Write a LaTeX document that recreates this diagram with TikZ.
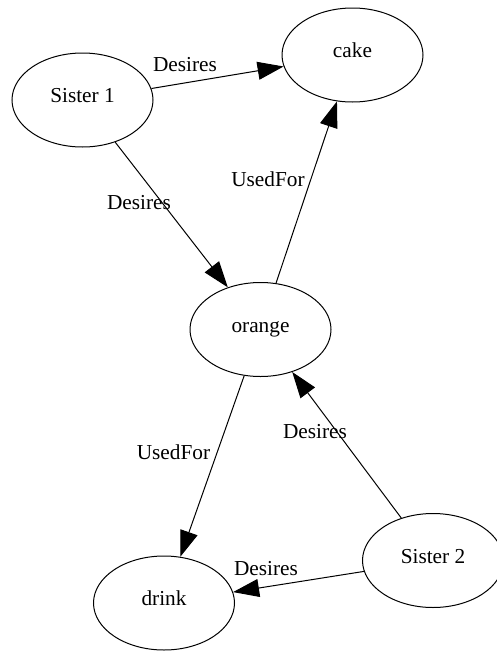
\documentclass[tikz,border=0pt]{standalone}
\usepackage{fontspec}
\setmainfont{Liberation Serif}
\usetikzlibrary{shapes.geometric,arrows.meta}
\tikzset{
 concept/.style={draw,ellipse,line width=1pt,inner sep=0pt,minimum width=141pt,minimum height=94pt,
   text height=0.8em,text depth=0.25em},
 rel/.style={line width=1pt,-{Triangle[length=26pt,width=18pt]}},
 lbl/.style={anchor=base,inner sep=0pt}
}

\begin{document}
\begin{tikzpicture}[x=1pt,y=-1pt,font=\fontsize{21.3}{25}\selectfont]
 \useasboundingbox (0,0) rectangle (497,651);
 % concepts
 \node[concept] (sister1) at (82.5,100) {Sister 1};
 \node[concept] (cake) at (352.5,55) {cake};
 \node[concept] (orange) at (260.5,329.5) {orange};
 \node[concept] (sister2) at (433,560.5) {Sister 2};
 \node[concept] (drink) at (164,603) {drink};
 % relations
 \draw[rel] (sister1) -- (cake);
 \draw[rel] (sister1) -- (orange);
 \draw[rel] (orange) -- (cake);
 \draw[rel] (orange) -- (drink);
 \draw[rel] (sister2) -- (orange);
 \draw[rel] (sister2) -- (drink);
 % relation labels
 \node[lbl] (l1) at (185,71.5) {Desires};
 \node[lbl] (l2) at (139,209) {Desires};
 \node[lbl] (l3) at (268,186) {UsedFor};
 \node[lbl] (l4) at (173.5,459) {UsedFor};
 \node[lbl] (l5) at (315,438) {Desires};
 \node[lbl] (l6) at (266,575) {Desires};
\end{tikzpicture}
\end{document}
